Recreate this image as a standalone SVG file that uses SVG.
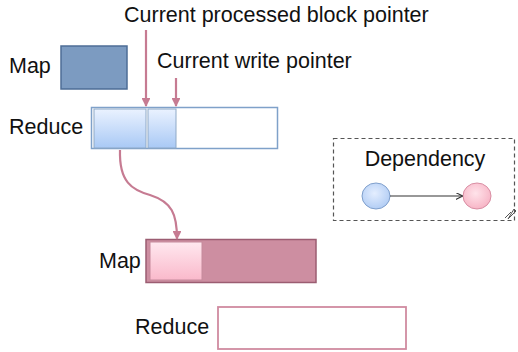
<svg xmlns="http://www.w3.org/2000/svg" width="518" height="352" viewBox="0 0 518 352">
  <defs>
    <style>
      .lbl { font-family: "Liberation Sans", Arial, sans-serif; font-size: 21.5px; fill: #111; }
      .ptr { stroke: #c67b92; stroke-width: 2.2; fill: none; }
      .dep { stroke: #333; stroke-width: 1.2; fill: none; }
    </style>
    <linearGradient id="blueFill" x1="0" y1="0" x2="0" y2="1">
      <stop offset="0" stop-color="#eaf2ff"/>
      <stop offset="1" stop-color="#a9c9f5"/>
    </linearGradient>
    <linearGradient id="pinkFill" x1="0" y1="0" x2="0" y2="1">
      <stop offset="0" stop-color="#ffe8ef"/>
      <stop offset="1" stop-color="#fab9cb"/>
    </linearGradient>
    <radialGradient id="blueBall" cx="0.45" cy="0.4" r="0.6">
      <stop offset="0" stop-color="#e4eeff"/>
      <stop offset="1" stop-color="#b2cdf4"/>
    </radialGradient>
    <radialGradient id="pinkBall" cx="0.45" cy="0.4" r="0.6">
      <stop offset="0" stop-color="#ffe3ea"/>
      <stop offset="1" stop-color="#f7b5c6"/>
    </radialGradient>
    <marker id="ptrHead" viewBox="0 0 10 10" refX="9" refY="5" markerWidth="4" markerHeight="4" orient="auto">
      <path d="M0,0 L10,5 L0,10 z" fill="#c67b92"/>
    </marker>
    <marker id="depHead" viewBox="0 0 10 10" refX="9" refY="5" markerWidth="7" markerHeight="7" orient="auto" markerUnits="userSpaceOnUse">
      <path d="M0,0 L10,5 L0,10" fill="none" stroke="#333" stroke-width="1.5"/>
    </marker>
  </defs>

  <rect width="518" height="352" fill="#fff"/>

  <!-- upper stage: map task -->
  <g id="map-top">
    <text class="lbl" x="9" y="73">Map</text>
    <rect x="61" y="46" width="66" height="43" fill="#7c9bc1" stroke="#4d6d96" stroke-width="1.5"/>
  </g>

  <!-- upper stage: reduce buffer with consumed/written blocks -->
  <g id="reduce-top">
    <text class="lbl" x="9" y="134">Reduce</text>
    <rect x="91.5" y="107.5" width="186" height="41" fill="#fff" stroke="#7fa1c9" stroke-width="1.5"/>
    <rect x="94" y="109" width="52" height="39" fill="url(#blueFill)" stroke="#8fa9c6" stroke-width="1"/>
    <rect x="148" y="109" width="28" height="39" fill="url(#blueFill)" stroke="#8fa9c6" stroke-width="1"/>
  </g>

  <!-- lower stage: map task fed from the reduce buffer -->
  <g id="map-bottom">
    <text class="lbl" x="99" y="268">Map</text>
    <rect x="146" y="239.5" width="170" height="43" fill="#cd8ea1" stroke="#9b5d72" stroke-width="1.5"/>
    <rect x="150" y="242" width="52" height="38" fill="url(#pinkFill)" stroke="#c58a9c" stroke-width="1"/>
  </g>

  <!-- lower stage: empty reduce buffer -->
  <g id="reduce-bottom">
    <text class="lbl" x="135" y="334">Reduce</text>
    <rect x="218" y="307" width="188" height="42" fill="#fff" stroke="#d08ba0" stroke-width="1.8"/>
  </g>

  <!-- legend -->
  <g id="legend">
    <rect x="333.5" y="138.5" width="181" height="82" fill="none" stroke="#555" stroke-width="1.2" stroke-dasharray="4,3"/>
    <text class="lbl" x="425" y="166" text-anchor="middle">Dependency</text>
    <ellipse cx="376" cy="196" rx="14" ry="13" fill="url(#blueBall)" stroke="#7f9fcc" stroke-width="1"/>
    <ellipse cx="477" cy="196" rx="14" ry="13" fill="url(#pinkBall)" stroke="#d98ea3" stroke-width="1"/>
    <path class="dep" d="M390,196 L462,196" marker-end="url(#depHead)"/>
    <path d="M505,218 L511,212 M508,219 L514,209 L516,211 Z" stroke="#555" stroke-width="1" fill="none"/>
  </g>

  <!-- pointer labels -->
  <g id="pointer-labels">
    <text class="lbl" x="124" y="22">Current processed block pointer</text>
    <text class="lbl" x="157" y="68">Current write pointer</text>
  </g>

  <!-- connectors -->
  <g id="connectors">
    <path class="ptr" d="M146,30 L146,106" marker-end="url(#ptrHead)"/>
    <path class="ptr" d="M176,78 L176,106" marker-end="url(#ptrHead)"/>
    <path class="ptr" d="M120,150 C119,182 132,190 150,195 C172,202 177,214 177,239" marker-end="url(#ptrHead)"/>
  </g>
</svg>
